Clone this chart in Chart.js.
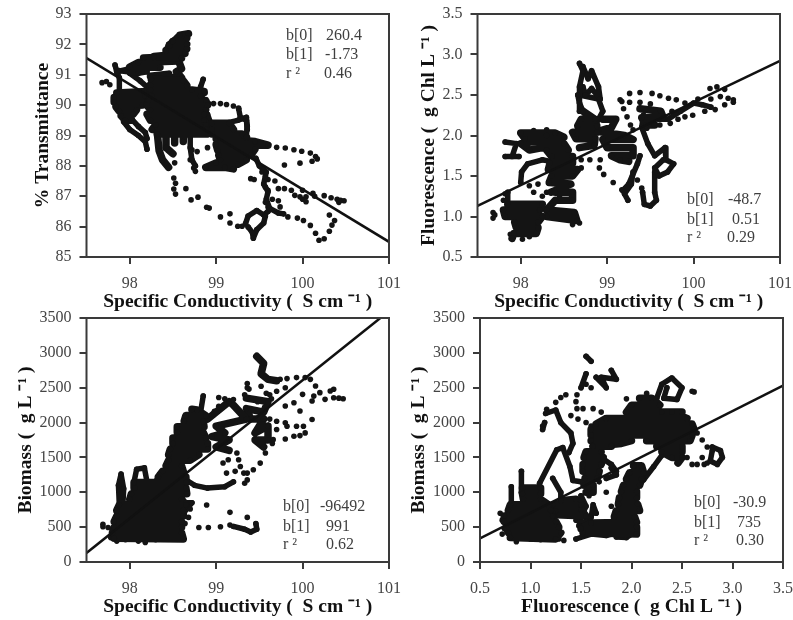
<!DOCTYPE html>
<html>
<head>
<meta charset="utf-8">
<script src="https://cdn.jsdelivr.net/npm/chart.js@4/dist/chart.umd.min.js"></script>
<style>
  html, body { margin: 0; padding: 0; background: #fff; overflow: hidden; }
  body { width: 793px; height: 620px; position: relative; }
  canvas { position: absolute; filter: blur(0.4px); }
</style>
</head>
<body>
<canvas id="chartA" width="405" height="315" style="left:0;top:0"></canvas>
<canvas id="chartB" width="393" height="315" style="left:400px;top:0"></canvas>
<canvas id="chartC" width="405" height="320" style="left:0;top:300px"></canvas>
<canvas id="chartD" width="393" height="320" style="left:400px;top:300px"></canvas>
<script>
const condTicks = [98, 99, 100, 101];
const fluorTicks = [0.5, 1.0, 1.5, 2.0, 2.5, 3.0, 3.5];
const transTicks = [85, 86, 87, 88, 89, 90, 91, 92, 93];
const biomassTicks = [0, 500, 1000, 1500, 2000, 2500, 3000, 3500];

const statNames = ["b[0]", "b[1]", "r ²"];
const statsA = ["260.4", "-1.73", "0.46"];
const statsB = ["-48.7", "0.51", "0.29"];
const statsC = ["-96492", "991", "0.62"];
const statsD = ["-30.9", "735", "0.30"];

const fitA = [[97.5, 91.55], [101, 85.5]];
const fitB = [[97.5, 1.13], [101, 2.92]];
const fitC = [[97.5, 130], [100.9, 3500]];
const fitD = [[0.5, 340], [3.5, 2530]];

// the solid parts of each cloud, walked back and forth
const blobsA = [
  [[98.25,90.85],[98.62,90.8],[98.66,90.65],[98.24,90.65],[98.24,90.5],[98.72,90.5],[98.86,90.45],[98.82,90.3],[98.26,90.3],[98.22,90.15],[98.88,90.15],[98.9,90.0],[98.2,90.0],[98.24,89.85],[98.88,89.85],[98.86,89.7],[98.2,89.7],[98.24,89.5],[98.86,89.5],[98.88,89.35],[98.3,89.35],[98.26,89.2],[98.88,89.2],[98.9,89.05],[98.32,89.05]],
  [[97.85,90.4],[98.2,90.45],[98.18,90.3],[97.82,90.25],[97.82,90.1],[98.2,90.15],[98.15,90.0],[97.84,89.95],[97.88,89.8],[98.08,89.85],[98.04,89.7],[97.9,89.65],[97.95,89.5],[98.02,89.5]],
  [[98.68,92.35],[98.58,92.3],[98.66,92.2],[98.5,92.1],[98.66,92.0],[98.46,91.95],[98.66,91.85],[98.42,91.8],[98.64,91.7],[98.28,91.6],[98.6,91.55]],
  [[98.16,91.55],[98.58,91.6],[98.56,91.45],[98.1,91.4],[98.0,91.25],[98.35,91.25]],
  [[98.56,91.5],[98.6,91.2],[98.54,91.1],[98.6,90.9],[98.24,90.95],[98.45,91.02]],
  [[98.32,89.05],[98.34,88.5],[98.38,88.2],[98.45,87.95]],
  [[98.42,89.05],[98.42,88.6],[98.5,88.4]],
  [[98.52,89.05],[98.52,88.75]],
  [[98.62,89.05],[98.62,88.8]],
  [[98.95,89.4],[99.15,89.4],[99.2,89.2],[98.95,89.2],[98.95,89.05],[99.3,89.05],[99.35,88.95]],
  [[99.0,88.9],[99.45,88.8],[99.6,88.68],[99.0,88.7],[99.02,88.5],[99.45,88.55],[99.4,88.35],[99.03,88.35],[99.05,88.2],[99.35,88.2],[99.25,88.05],[99.0,88.1],[98.88,87.95],[99.1,87.95],[99.2,87.9]]
];
// thinner runs where the track is still continuous
const tracesA = [
  [[98.7,88.95],[98.7,88.6],[98.72,88.2],[98.76,88.0]],
  [[97.93,89.45],[98.0,89.2],[98.1,89.0],[98.18,88.8],[98.2,88.55]],
  [[98.02,89.55],[98.1,89.3],[98.18,89.1],[98.2,88.9]],
  [[97.83,91.32],[97.85,91.1],[97.88,90.9],[97.88,90.4]],
  [[97.85,91.15],[98.1,91.05],[98.2,91.1]],
  [[97.85,91.1],[98.0,91.2],[98.2,91.4],[98.35,91.55],[98.4,91.65],[98.45,92.0],[98.55,92.25],[98.68,92.36]],
  [[98.0,91.05],[98.12,90.8],[98.2,90.6],[98.3,90.9]],
  [[98.85,90.85],[98.82,90.6],[98.8,90.4],[98.87,90.4]],
  [[98.9,89.7],[98.95,89.3]],
  [[98.9,89.3],[99.1,89.4],[99.25,89.5],[99.35,89.6],[99.36,89.3],[99.35,89.0]],
  [[99.26,89.88],[99.28,89.6],[99.35,89.5],[99.36,89.2]],
  [[99.46,88.25],[99.5,88.0],[99.58,87.8],[99.55,87.4],[99.6,87.15],[99.58,86.9],[99.62,86.6],[99.72,86.45],[99.78,86.42]],
  [[99.37,85.99],[99.42,85.8],[99.43,85.62],[99.47,85.9],[99.55,86.12],[99.57,86.35],[99.47,86.53],[99.37,86.35],[99.34,86.1]],
  [[99.6,86.5],[99.55,86.38]]
];
const dotsA = [[97.68,90.74],[97.73,90.78],[97.77,90.67],[99.7,88.61],[99.8,88.59],[99.9,88.53],[99.99,88.48],[100.09,88.42],[100.15,88.31],[100.17,88.23],[100.11,88.15],[99.97,88.09],[99.79,88.03],[98.51,87.6],[98.53,87.43],[98.51,87.24],[98.53,87.07],[98.65,87.25],[98.71,86.88],[98.79,86.97],[98.89,86.64],[98.92,86.61],[99.05,86.32],[99.16,86.42],[99.16,86.12],[99.25,86.01],[99.3,86.01],[98.91,90.06],[98.97,90.05],[99.05,90.05],[99.12,90.02],[99.2,89.97],[99.26,89.9],[99.4,87.58],[99.44,87.55],[99.53,87.8],[99.57,87.65],[99.6,87.55],[99.57,87.3],[99.6,87.2],[99.68,87.5],[99.72,87.25],[99.65,86.9],[99.72,86.85],[99.57,86.8],[99.6,86.65],[99.74,86.65],[99.83,86.32],[99.94,86.28],[100.01,86.2],[100.09,86.04],[100.15,85.78],[100.19,85.55],[100.25,85.6],[100.31,85.85],[100.34,86.05],[100.37,86.2],[100.31,86.38],[99.79,87.25],[99.87,87.2],[99.91,87.03],[99.97,86.98],[100.0,87.2],[100.04,86.98],[100.04,86.82],[100.0,86.9],[100.12,87.1],[100.14,87.0],[100.25,87.02],[100.33,86.95],[100.4,86.9],[100.42,86.8],[100.48,86.85],[100.44,86.87],[98.9,88.6],[98.78,88.47],[98.72,88.53],[98.7,88.2],[98.74,87.93],[98.76,87.82],[98.52,88.1]];

const blobsB = [
  [[97.85,1.15],[98.25,1.15],[98.22,1.08],[97.8,1.08],[97.82,1.0],[98.25,1.0],[98.2,0.93],[97.93,0.93],[97.95,0.86],[98.2,0.86],[98.18,0.79],[97.92,0.79],[97.9,0.73]],
  [[98.3,1.0],[98.65,0.95],[98.62,1.05],[98.3,1.08],[98.4,1.2],[98.6,1.2],[98.6,1.3],[98.4,1.3]],
  [[98.35,1.3],[98.58,1.4],[98.33,1.42],[98.36,1.5],[98.6,1.5],[98.66,1.58],[98.32,1.58],[98.34,1.66],[98.6,1.66],[98.6,1.74],[98.36,1.74],[98.3,1.82],[98.55,1.82],[98.5,1.9],[98.1,1.82],[98.0,1.9],[98.5,1.98],[98.4,2.03],[98.0,2.03],[98.05,1.96],[98.3,2.0]],
  [[98.68,1.85],[98.85,1.88],[98.86,1.96],[98.64,1.96],[98.6,2.04],[98.88,2.04],[98.88,2.12],[98.66,2.12],[98.7,2.2],[98.86,2.2],[98.72,2.3]],
  [[98.95,2.2],[99.1,2.2],[99.05,2.1],[98.9,2.05],[99.2,2.0],[99.3,1.95],[98.95,1.95],[99.0,1.85],[99.3,1.85],[99.3,1.75],[99.05,1.75],[99.15,1.7],[99.25,1.68]],
  [[99.38,2.33],[99.62,2.3],[99.65,2.22],[99.4,2.22],[99.45,2.13],[99.55,2.13]]
];
const tracesB = [
  [[97.85,1.3],[97.85,1.15]],
  [[97.82,1.92],[97.95,1.9],[97.9,1.74],[97.82,1.74],[97.98,1.74]],
  [[98.0,1.42],[98.01,1.55],[98.08,1.65],[98.25,1.7],[98.34,1.68]],
  [[98.72,2.3],[98.68,2.4],[98.66,2.5]],
  [[98.68,2.89],[98.72,2.8],[98.68,2.6],[98.68,2.3]],
  [[98.72,2.85],[98.78,2.7],[98.82,2.8],[98.9,2.6],[98.92,2.45],[98.82,2.58],[98.75,2.5],[98.72,2.6]],
  [[98.68,2.5],[98.9,2.45],[98.95,2.3],[98.85,2.1]],
  [[99.42,2.25],[99.4,2.1],[99.47,1.9],[99.55,1.75],[99.67,1.85],[99.68,1.7],[99.77,1.65],[99.7,1.55],[99.6,1.5],[99.55,1.6],[99.65,1.7]],
  [[99.55,1.55],[99.55,1.3],[99.57,1.2],[99.5,1.13],[99.43,1.15],[99.41,1.3]],
  [[99.3,1.55],[99.28,1.4],[99.2,1.28],[99.24,1.2]],
  [[99.18,1.32],[99.25,1.4],[99.35,1.65],[99.38,1.75]],
  [[99.6,2.2],[99.7,2.2],[99.85,2.3],[100.0,2.4],[100.1,2.38],[100.2,2.35]]
];
const dotsB = [[97.68,1.05],[97.68,0.98],[97.7,1.02],[98.8,1.7],[98.92,1.7],[98.91,1.6],[98.96,1.52],[99.07,1.42],[99.17,1.33],[99.26,2.52],[99.38,2.53],[99.52,2.52],[99.61,2.49],[99.71,2.46],[99.8,2.44],[99.17,2.42],[99.26,2.41],[99.38,2.41],[99.5,2.39],[99.15,2.44],[99.19,2.33],[99.23,2.23],[99.27,2.13],[99.3,2.07],[100.19,2.58],[100.27,2.6],[100.36,2.57],[100.31,2.48],[100.4,2.46],[100.46,2.44],[100.46,2.41],[100.36,2.38],[100.25,2.32],[100.13,2.3],[99.99,2.25],[99.9,2.23],[99.82,2.2],[99.73,2.15],[99.61,2.13],[99.46,2.09],[98.15,1.3],[98.1,1.38],[98.25,1.25],[98.2,1.4],[98.3,1.3],[99.4,1.35],[99.35,1.45],[99.75,2.3],[99.9,2.4],[100.05,2.45],[100.2,2.45],[98.02,0.72],[97.88,0.78],[98.1,0.75],[98.6,0.9],[98.68,0.92],[97.8,1.2],[97.82,1.28],[98.3,2.07],[98.15,2.06],[98.45,1.26],[98.7,1.6],[98.7,1.7]];

const blobsC = [
  [[97.82,340],[98.62,330],[98.6,420],[97.8,420],[97.82,500],[98.6,500],[98.6,580],[97.82,580],[97.85,660],[98.62,660],[98.62,740],[97.85,740],[97.88,820],[98.65,820],[98.6,900],[98.0,900],[98.02,980],[98.66,980],[98.65,1060],[98.06,1060],[98.05,1140],[98.65,1140],[98.65,1220],[98.33,1220],[98.38,1300],[98.62,1300],[98.6,1380],[98.42,1380],[98.45,1460],[98.7,1460],[98.8,1540],[98.45,1540],[98.47,1620],[98.9,1620],[98.9,1700],[98.5,1700],[98.5,1780],[98.88,1780],[98.85,1860],[98.55,1860],[98.55,1940],[98.86,1940],[98.85,2020],[98.63,2020],[98.65,2100],[98.88,2100],[98.78,2180],[98.72,2190]],
  [[98.9,2050],[99.15,2300],[99.2,2250],[99.35,2050],[99.0,1950],[99.1,1850],[98.95,1800],[99.15,1750],[99.0,1650],[99.15,1600]],
  [[99.35,2350],[99.6,2300],[99.55,2150],[99.35,2200],[99.4,2050],[99.55,2050],[99.45,1850],[99.6,1950],[99.6,1750],[99.45,1750],[99.55,1650]],
  [[99.47,2950],[99.55,2850],[99.52,2700],[99.6,2620],[99.7,2600]]
];
const tracesC = [
  [[97.87,500],[97.88,800],[97.87,1100],[97.9,1260],[97.93,1050],[97.92,800]],
  [[98.05,1150],[98.08,1330],[98.17,1350],[98.2,1150]],
  [[98.3,1150],[98.35,1260],[98.42,1280]],
  [[98.82,2150],[98.85,2380],[98.82,2150]],
  [[98.65,1180],[98.75,1100],[98.9,1060],[99.1,1080],[99.2,1150]],
  [[99.2,510],[99.33,470],[99.4,430],[99.47,470],[99.46,550]],
  [[98.62,700],[98.72,850],[98.65,850]]
];
const dotsC = [[97.69,505],[97.69,540],[97.75,495],[98.64,553],[98.8,495],[98.91,495],[99.05,505],[99.16,529],[99.16,712],[98.89,818],[99.36,640],[99.14,1467],[99.08,1420],[99.12,1275],[99.24,1563],[99.26,1467],[99.28,1370],[99.22,1300],[99.32,1275],[99.36,1178],[99.33,1130],[99.57,1563],[99.51,1419],[99.43,1323],[99.36,1275],[99.03,2360],[99.03,2235],[99.36,2500],[99.36,2560],[99.33,2400],[99.74,2622],[99.82,2631],[99.93,2645],[100.03,2645],[99.9,2285],[100.0,2405],[99.8,2237],[99.97,2165],[99.7,2020],[99.8,1996],[100.11,2044],[99.82,1948],[99.93,1948],[100.01,1948],[100.03,1852],[99.97,1813],[99.9,1803],[99.8,1765],[99.66,1755],[99.7,1900],[100.09,2620],[100.15,2525],[100.2,2429],[100.13,2380],[100.11,2309],[100.26,2333],[100.32,2453],[100.36,2477],[100.36,2357],[100.47,2342],[100.42,2350],[99.7,2450],[99.62,2400],[99.8,2500],[99.38,2480],[99.48,2300],[99.58,2420],[99.64,2340],[99.52,2520],[97.85,300],[97.95,320],[98.18,280],[98.3,320],[98.45,330],[98.58,330],[98.1,300],[98.7,760],[98.68,640],[97.78,350],[99.2,2330],[99.1,2340],[98.98,2160],[99.65,1700],[99.62,2050]];

const blobsD = [
  [[0.8,350],[1.25,330],[1.3,420],[0.78,420],[0.76,500],[1.28,500],[1.25,580],[0.74,580],[0.74,660],[1.22,660],[1.2,740],[0.78,740],[0.8,820],[1.18,820],[1.1,900],[0.93,900],[0.92,980],[1.1,980],[1.1,1060],[0.92,1060]],
  [[1.2,680],[1.55,660],[1.5,750],[1.25,730],[1.22,820],[1.5,820],[1.45,900],[1.3,880]],
  [[1.55,1000],[1.62,1000],[1.62,1100],[1.53,1100],[1.54,1200],[1.66,1200],[1.68,1300],[1.52,1300],[1.52,1400],[1.7,1400],[1.72,1500],[1.53,1500],[1.55,1580],[1.7,1580],[1.62,1660],[1.8,1660]],
  [[2.08,2350],[2.2,2350],[2.28,2250],[2.0,2250],[1.95,2150],[2.3,2150],[2.5,2150],[2.4,2150],[2.55,2060],[1.75,2060],[1.65,1980],[2.6,1980],[2.62,1900],[1.6,1900],[1.6,1820],[2.6,1820],[2.58,1740],[2.15,1740]],
  [[1.6,1740],[2.0,1740],[1.9,1700],[1.62,1660]],
  [[2.25,1660],[2.5,1660],[2.5,1580],[2.3,1580],[2.4,1500],[2.5,1500],[2.46,1420]],
  [[1.52,420],[2.05,400],[2.05,500],[1.5,480],[1.6,560],[2.05,570],[2.03,650],[1.83,650],[1.85,740],[2.08,740],[2.06,830],[1.87,830],[1.88,920],[2.05,920],[2.05,1010],[1.9,1010],[1.92,1100],[2.08,1100],[2.1,1190],[1.95,1190],[1.98,1280],[2.12,1280],[2.1,1380],[2.02,1380]]
];
const tracesD = [
  [[0.91,1000],[0.91,1300]],
  [[0.81,800],[0.81,1080]],
  [[1.3,880],[1.3,1000],[1.22,1200]],
  [[1.09,1130],[1.26,1610],[1.32,1640],[1.39,1370],[1.42,1170],[1.5,1150]],
  [[1.12,1900],[1.14,2000]],
  [[1.15,2130],[1.25,2180],[1.3,2000],[1.4,1850],[1.42,1700],[1.38,1570]],
  [[1.55,2950],[1.6,2880]],
  [[1.55,2700],[1.5,2500]],
  [[1.65,2650],[1.75,2500],[1.7,2650],[1.85,2620],[1.8,2750]],
  [[1.5,950],[1.55,800],[1.5,650],[1.48,520],[1.6,640],[1.62,820],[1.65,700]],
  [[1.45,330],[1.6,400],[1.75,380],[1.85,420]],
  [[2.0,500],[2.05,450],[1.95,350],[1.85,360],[1.92,420]],
  [[2.25,2350],[2.3,2550],[2.4,2640],[2.5,2500],[2.45,2330],[2.32,2350],[2.35,2500]],
  [[2.8,1650],[2.88,1600],[2.9,1500],[2.85,1400],[2.78,1450],[2.8,1600]],
  [[1.7,1500],[1.8,1400],[1.85,1300]],
  [[2.12,1180],[2.22,1370],[2.3,1530]],
  [[1.75,1200],[1.85,1250],[1.8,1350]]
];
const dotsD = [[0.72,400],[0.74,480],[0.86,290],[0.86,330],[1.33,310],[1.28,330],[1.16,2190],[1.12,1950],[1.25,2290],[1.3,2360],[1.35,2400],[1.45,2300],[1.46,2400],[1.46,2200],[1.55,2550],[1.6,2500],[1.52,2200],[1.62,2200],[1.4,2100],[1.47,2050],[1.55,2000],[1.6,1950],[1.7,2150],[2.6,2450],[2.62,2440],[2.65,1850],[2.7,1750],[2.75,1650],[2.6,1400],[2.65,1400],[2.72,1400],[2.7,1500],[2.75,1420],[2.55,1500],[1.8,800],[1.75,1000],[1.68,1150],[1.95,2340],[2.15,2420],[0.7,700],[0.72,600],[1.0,330],[1.1,320],[1.45,600],[1.58,950]];

function toPoints(list) {
  return list.map(p => ({ x: p[0], y: p[1] }));
}

// box round the plot and the fit numbers in the corner
const panelExtras = {
  id: "panelExtras",
  afterDraw(chart, args, opts) {
    const { ctx, chartArea } = chart;
    ctx.save();
    ctx.strokeStyle = "#3a3a3a";
    ctx.lineWidth = 2;
    ctx.strokeRect(chartArea.left, chartArea.top, chartArea.right - chartArea.left, chartArea.bottom - chartArea.top);
    ctx.fillStyle = "#3f3f3f";
    ctx.font = "16px 'Liberation Serif'";
    ctx.textBaseline = "middle";
    statNames.forEach((name, i) => {
      ctx.fillText(name, opts.nameX, opts.rowY[i]);
      ctx.fillText(opts.values[i], opts.valueX[i], opts.rowY[i]);
    });
    ctx.restore();
  }
};

function pathDataset(list, width) {
  return {
    type: "line",
    data: toPoints(list),
    borderColor: "#141414",
    backgroundColor: "#141414",
    borderWidth: width,
    borderJoinStyle: "round",
    borderCapStyle: "round",
    pointBorderWidth: 0,
    pointRadius: 2.8
  };
}

function makePanel(id, cfg) {
  const datasets = [{
    type: "line",
    data: toPoints(cfg.fit),
    borderColor: "#111",
    borderWidth: 2.5,
    pointRadius: 0
  }];
  cfg.blobs.forEach(path => datasets.push(pathDataset(path, 7.5)));
  cfg.traces.forEach(path => datasets.push(pathDataset(path, 5.5)));
  datasets.push({
    type: "scatter",
    data: toPoints(cfg.dots),
    backgroundColor: "#141414",
    borderWidth: 0,
    pointRadius: 2.8
  });

  const tickFont = { family: "'Liberation Serif'", size: 16 };
  const titleFont = { family: "'Liberation Serif'", size: 19.5, weight: "bold" };
  const axisGrid = { drawOnChartArea: false, drawTicks: true, tickLength: 7, color: "#3a3a3a", lineWidth: 2 };

  new Chart(document.getElementById(id), {
    data: { datasets },
    options: {
      responsive: false,
      animation: false,
      layout: { padding: { left: 0, top: cfg.top, right: cfg.right, bottom: 0 } },
      plugins: { legend: { display: false }, tooltip: { enabled: false }, panelExtras: cfg.extras },
      scales: {
        x: {
          type: "linear",
          min: cfg.xMin,
          max: cfg.xMax,
          afterBuildTicks: scale => { scale.ticks = cfg.xTicks.map(v => ({ value: v })); },
          afterFit: scale => { scale.height = 58; scale.paddingLeft = 0; scale.paddingRight = 0; },
          grid: axisGrid,
          border: { display: false },
          ticks: { font: tickFont, color: "#444", padding: 10, maxRotation: 0, autoSkip: false, callback: cfg.xFormat },
          title: { display: true, text: cfg.xTitle, font: titleFont, color: "#111", padding: { top: 0, bottom: 1 } }
        },
        y: {
          type: "linear",
          min: cfg.yMin,
          max: cfg.yMax,
          afterBuildTicks: scale => { scale.ticks = cfg.yTicks.map(v => ({ value: v })); },
          afterFit: scale => { scale.width = cfg.left; scale.paddingTop = 0; scale.paddingBottom = 0; },
          grid: axisGrid,
          border: { display: false },
          ticks: { font: tickFont, color: "#444", padding: 8, autoSkip: false, callback: cfg.yFormat },
          title: { display: true, text: cfg.yTitle, font: titleFont, color: "#111", padding: { top: cfg.yTitlePad, bottom: 0 } }
        }
      }
    },
    plugins: [panelExtras]
  });
}

const plain = v => String(v);
const oneDecimal = v => v.toFixed(1);

makePanel("chartA", {
  fit: fitA, blobs: blobsA, traces: tracesA, dots: dotsA,
  top: 14, right: 16, left: 86.5,
  xMin: 97.5, xMax: 101, xTicks: condTicks, xFormat: plain,
  yMin: 85, yMax: 93, yTicks: transTicks, yFormat: plain,
  xTitle: "Specific Conductivity (  S cm ⁻¹ )", yTitle: "% Transmittance", yTitlePad: 31,
  extras: { values: statsA, nameX: 286, valueX: [326, 325, 324], rowY: [36, 55, 74] }
});
makePanel("chartB", {
  fit: fitB, blobs: blobsB, traces: tracesB, dots: dotsB,
  top: 14, right: 13, left: 77.5,
  xMin: 97.5, xMax: 101, xTicks: condTicks, xFormat: plain,
  yMin: 0.5, yMax: 3.5, yTicks: fluorTicks, yFormat: oneDecimal,
  xTitle: "Specific Conductivity (  S cm ⁻¹ )", yTitle: "Fluorescence (  g Chl L ⁻¹ )", yTitlePad: 17,
  extras: { values: statsB, nameX: 287, valueX: [328, 332, 327], rowY: [200, 220, 238] }
});
makePanel("chartC", {
  fit: fitC, blobs: blobsC, traces: tracesC, dots: dotsC,
  top: 18, right: 16, left: 86.5,
  xMin: 97.5, xMax: 101, xTicks: condTicks, xFormat: plain,
  yMin: 0, yMax: 3500, yTicks: biomassTicks, yFormat: plain,
  xTitle: "Specific Conductivity (  S cm ⁻¹ )", yTitle: "Biomass (  g L ⁻¹ )", yTitlePad: 14,
  extras: { values: statsC, nameX: 283, valueX: [320, 326, 326], rowY: [207, 227, 245] }
});
makePanel("chartD", {
  fit: fitD, blobs: blobsD, traces: tracesD, dots: dotsD,
  top: 18, right: 10, left: 80,
  xMin: 0.5, xMax: 3.5, xTicks: fluorTicks, xFormat: oneDecimal,
  yMin: 0, yMax: 3500, yTicks: biomassTicks, yFormat: plain,
  xTitle: "Fluorescence (  g Chl L ⁻¹ )", yTitle: "Biomass (  g L ⁻¹ )", yTitlePad: 7,
  extras: { values: statsD, nameX: 294, valueX: [333, 337, 336], rowY: [203, 223, 241] }
});
</script>
</body>
</html>
